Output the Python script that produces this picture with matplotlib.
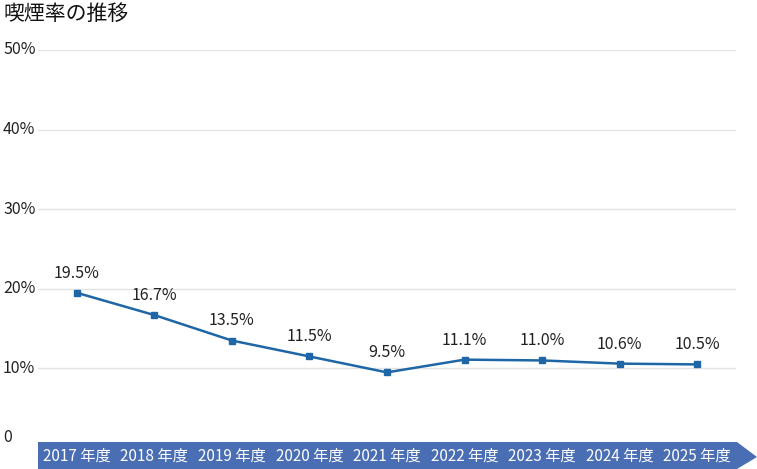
import matplotlib
matplotlib.use("Agg")
import matplotlib.pyplot as plt
from matplotlib.patches import Polygon

plt.rcParams['font.family'] = ['Noto Sans CJK JP', 'DejaVu Sans']

# data
years = ['2017 年度', '2018 年度', '2019 年度', '2020 年度', '2021 年度',
         '2022 年度', '2023 年度', '2024 年度', '2025 年度']
rates = [19.5, 16.7, 13.5, 11.5, 9.5, 11.1, 11.0, 10.6, 10.5]
yticks = [0, 10, 20, 30, 40, 50]
ylabels = ['0', '10%', '20%', '30%', '40%', '50%']
title = '喫煙率の推移'

W, H = 757, 469
fig = plt.figure(figsize=(W / 100, H / 100), dpi=100)
ax = fig.add_axes([38 / W, (H - 448) / H, (736 - 38) / W, (448 - 50) / H])

x = list(range(len(years)))
ax.plot(x, rates, color='#1e66a6', lw=1.8, marker='s', ms=5, zorder=3)
for xi, v in zip(x, rates):
    ax.annotate(f'{v:.1f}%', (xi, v), xytext=(0, 8), textcoords='offset points',
                ha='center', va='bottom', fontsize=11.5, color='#222222')

ax.set_xlim(-0.5, len(years) - 0.5)
ax.set_ylim(0, 50)
ax.set_yticks(yticks[1:])
ax.yaxis.grid(True, color='#e3e3e3', lw=1)
ax.set_axisbelow(True)
ax.tick_params(left=False, bottom=False, labelleft=False, labelbottom=False)
for s in ax.spines.values():
    s.set_visible(False)

# y labels on the left edge
for t, lab in zip(yticks, ylabels):
    y = ax.transData.transform((0, t))[1] / H
    if t == 0:
        y = (H - 437) / H
    fig.text(3 / W, y, lab, ha='left', va='center', fontsize=11.5, color='#222222')

# arrow band for x axis
band = Polygon([(38 / W, (H - 442) / H), (737 / W, (H - 442) / H),
                (757 / W, (H - 457) / H), (737 / W, 0), (38 / W, 0)],
               closed=True, transform=fig.transFigure, facecolor='#4a6eb4',
               edgecolor='none')
fig.patches.append(band)
for xi, lab in zip(x, years):
    xf = ax.transData.transform((xi, 0))[0] / W
    fig.text(xf, (H - 456) / H, lab, ha='center', va='center', fontsize=11,
             color='white')

fig.text(3 / W, (H - 14) / H, title, ha='left', va='center', fontsize=15,
         color='#111111')

fig.savefig('out.png', dpi=100)
